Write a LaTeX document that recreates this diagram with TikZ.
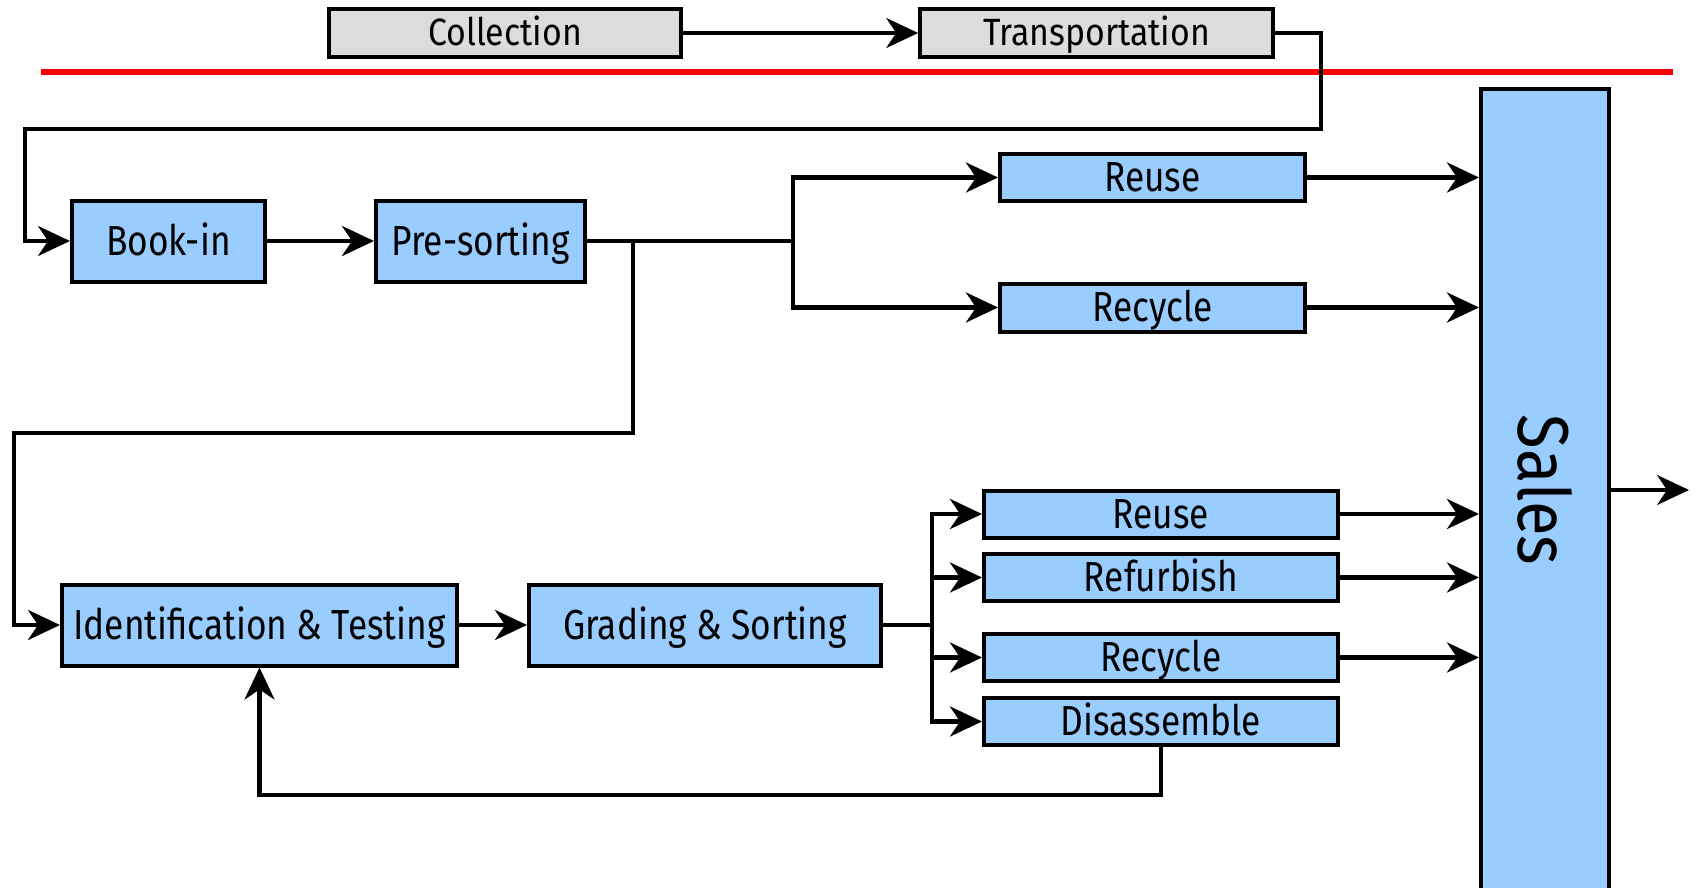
\documentclass[tikz,border=0pt]{standalone}
\usepackage{fontspec}
\setmainfont{Fira Sans}[FakeStretch=0.84]
\newfontfamily\salesfont{Fira Sans}[FakeStretch=0.88]
\newfontfamily\greyfont{Fira Sans}[FakeStretch=0.89]
\usetikzlibrary{arrows.meta,calc}
\definecolor{boxblue}{HTML}{99CCFF}
\definecolor{boxgrey}{HTML}{DCDCDC}
\definecolor{divider}{HTML}{FF0000}
\begin{document}
\begin{tikzpicture}[x=0.5pt,y=-0.5pt,
  box/.style={draw=black,line width=2pt,fill=boxblue,inner sep=0pt,
    text height=14.4pt,text depth=0pt,font=\fontsize{21}{24}\selectfont},
  greybox/.style={draw=black,line width=1.8pt,fill=boxgrey,inner sep=0pt,
    text height=13pt,text depth=0pt,font=\greyfont\fontsize{19}{22}\selectfont},
  tip/.style={-{Stealth[length=16pt,width=15pt,inset=5pt]}},
  link/.style={line width=2.1pt},
  flow/.style={link,tip},
  thinflow/.style={line width=1.7pt,tip},
  redline/.style={draw=divider,line width=2.8pt}]
\useasboundingbox (0,0) rectangle (1696,888);

% divider between upstream logistics and processing
\coordinate (redL) at (41,72);
\coordinate (redR) at (1673,72);
\draw[redline] (redL) -- (redR);

% upstream steps
\node[greybox,minimum width=176pt,minimum height=24pt] (coll) at (505,33) {Collection};
\node[greybox,minimum width=176.5pt,minimum height=24pt] (trans) at (1096.5,33) {Transportation};

% first stage
\node[box,minimum width=96.5pt,minimum height=40.5pt] (book) at (168.5,241) {Book-in};
\node[box,minimum width=104.5pt,minimum height=40.5pt] (pre) at (480.5,241) {Pre-sorting};
\node[box,minimum width=152.5pt,minimum height=23.5pt] (reuseA) at (1152.5,177.5) {Reuse};
\node[box,minimum width=152.5pt,minimum height=24pt] (recycA) at (1152.5,307.5) {Recycle};

% sales column
\node[box,minimum width=64pt,minimum height=401pt] (sales) at (1545,490) {};
\node[rotate=-90,font=\salesfont\fontsize{36}{40}\selectfont] (salestext) at (sales.center) {Sales};

% second stage
\node[box,minimum width=197.5pt,minimum height=40.5pt] (idt) at (259.5,625) {Identification \& Testing};
\node[box,minimum width=176pt,minimum height=40.5pt] (grad) at (705,625) {Grading \& Sorting};
\node[box,minimum width=177pt,minimum height=23.5pt] (reuseB) at (1161,514) {Reuse};
\node[box,minimum width=177pt,minimum height=23.5pt] (refurb) at (1161,577.5) {Refurbish};
\node[box,minimum width=177pt,minimum height=23.5pt] (recycB) at (1161,657.5) {Recycle};
\node[box,minimum width=177pt,minimum height=23.5pt] (disas) at (1161,721.5) {Disassemble};

% upstream connectors
\draw[thinflow] (coll.east) -- (trans.west);
\coordinate (bendA) at (1321,129);
\coordinate (bendB) at (25,129);
\draw[thinflow] (trans.east) -| (bendA) -- (bendB) |- (book.west);

% first stage connectors
\draw[flow] (book.east) -- (pre.west);
\coordinate (splitA) at (793,241);
\draw[link] (pre.east) -- (splitA);
\draw[flow] (splitA) |- (reuseA.west);
\draw[flow] (splitA) |- (recycA.west);
\coordinate (dropA) at (633,241);
\coordinate (dropB) at (633,433);
\coordinate (dropC) at (14,433);
\draw[flow] (dropA) -- (dropB) -- (dropC) |- (idt.west);
\draw[flow] (reuseA.east) -- (reuseA.east -| sales.west);
\draw[flow] (recycA.east) -- (recycA.east -| sales.west);

% second stage connectors
\draw[flow] (idt.east) -- (grad.west);
\coordinate (splitB) at (932,625);
\draw[link] (grad.east) -- (splitB);
\draw[flow] (splitB) |- (reuseB.west);
\draw[flow] (splitB) |- (refurb.west);
\draw[flow] (splitB) |- (recycB.west);
\draw[flow] (splitB) |- (disas.west);
\draw[flow] (reuseB.east) -- (reuseB.east -| sales.west);
\draw[flow] (refurb.east) -- (refurb.east -| sales.west);
\draw[flow] (recycB.east) -- (recycB.east -| sales.west);
\draw[flow] (disas.south) -- ++(0,48) -| (idt.south);

% output of sales
\coordinate (out) at (1689,490);
\draw[thinflow] (sales.east) -- (out);
\end{tikzpicture}
\end{document}
